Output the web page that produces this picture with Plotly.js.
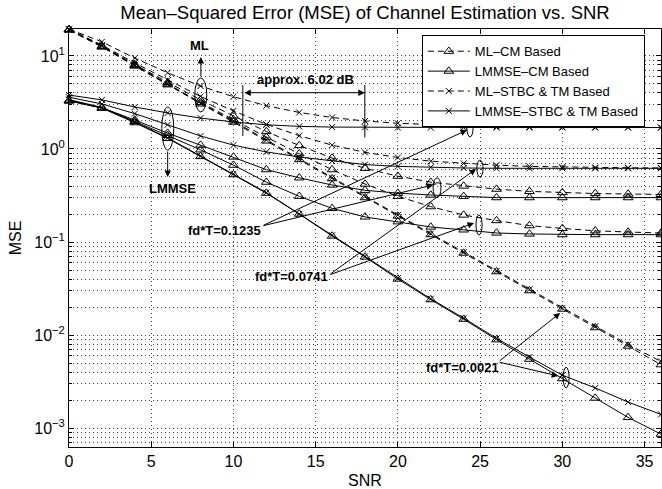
<!DOCTYPE html>
<html><head><meta charset="utf-8">
<script src="https://cdn.plot.ly/plotly-3.0.1.min.js"></script>
<style>html,body{margin:0;padding:0;background:#fff}#c{width:662px;height:489px}</style>
</head><body><div id="c"></div>
<script>
const snr = [0,2,4,6,8,10,12,14,16,18,20,22,24,26,28,30,32,34,36];

// fd*T = 0.0021
const mlCm0021   = [19.0,12.5,7.8,4.9,3.05,1.95,1.22,0.77,0.48,0.30,0.19,0.12,0.076,0.048,0.030,0.019,0.012,0.0076,0.0048];
const mlStbc0021 = [19.1,12.8,8.0,5.0,3.1,2.0,1.25,0.78,0.49,0.31,0.195,0.123,0.078,0.049,0.031,0.0195,0.0124,0.0079,0.0052];
const lmCm0021   = [3.3,2.75,1.92,1.3,0.83,0.53,0.335,0.2,0.116,0.069,0.04,0.024,0.0148,0.0089,0.0055,0.0034,0.0021,0.0013,0.00086];
const lmStbc0021 = [3.4,2.8,1.95,1.32,0.84,0.54,0.34,0.2,0.118,0.07,0.041,0.0245,0.0152,0.0092,0.0058,0.0037,0.0027,0.0019,0.0014];
// fd*T = 0.0741
const mlCm0741   = [19.2,12.6,7.9,5.0,3.17,2.07,1.34,0.89,0.60,0.42,0.31,0.24,0.195,0.17,0.15,0.14,0.132,0.128,0.125];
const mlStbc0741 = [19.4,13.1,8.4,5.5,3.67,2.57,1.84,1.39,1.10,0.92,0.81,0.74,0.70,0.67,0.65,0.64,0.632,0.628,0.625];
const lmCm0741   = [3.3,2.76,1.98,1.4,0.98,0.67,0.44,0.31,0.23,0.186,0.165,0.145,0.135,0.125,0.122,0.12,0.12,0.12,0.12];
const lmStbc0741 = [3.6,3.05,2.4,1.82,1.38,1.1,0.93,0.82,0.74,0.68,0.65,0.635,0.625,0.62,0.62,0.62,0.62,0.62,0.62];
// fd*T = 0.1235
const mlCm1235   = [19.3,12.8,8.1,5.2,3.37,2.27,1.54,1.09,0.80,0.62,0.51,0.44,0.40,0.37,0.35,0.34,0.332,0.328,0.325];
const mlStbc1235 = [19.5,14.2,9.5,6.6,4.75,3.65,2.92,2.47,2.18,2.0,1.89,1.82,1.78,1.75,1.73,1.72,1.71,1.71,1.70];
const lmCm1235   = [3.3,2.78,2.05,1.48,1.1,0.82,0.6,0.49,0.41,0.36,0.335,0.32,0.31,0.30,0.30,0.30,0.30,0.30,0.30];
const lmStbc1235 = [3.8,3.37,2.83,2.44,2.15,1.95,1.82,1.75,1.72,1.71,1.70,1.70,1.70,1.70,1.70,1.70,1.70,1.70,1.70];

const seriesNames = ['ML–CM Based','LMMSE–CM Based','ML–STBC &amp; TM Based','LMMSE–STBC &amp; TM Based'];
const xTicks = [0,5,10,15,20,25,30,35];
const yTickVals = [10,1,0.1,0.01,0.001];
const yTickText = ['10<sup>1</sup>','10<sup>0</sup>','10<sup>−1</sup>','10<sup>−2</sup>','10<sup>−3</sup>'];

const FONT = 'Liberation Sans, Arial, Helvetica, sans-serif';
const styles = [
  {dash:'6px,4px', symbol:'triangle-up-open', size:8.5},
  {dash:'solid',   symbol:'triangle-up-open', size:8.5},
  {dash:'6px,4px', symbol:'x-thin-open', size:6},
  {dash:'solid',   symbol:'x-thin-open', size:6}
];
const groups = [
  [mlCm0021, mlCm0741, mlCm1235],
  [lmCm0021, lmCm0741, lmCm1235],
  [mlStbc0021, mlStbc0741, mlStbc1235],
  [lmStbc0021, lmStbc0741, lmStbc1235]
];
const traces = [];
groups.forEach((g, gi) => {
  g.forEach((ys, k) => {
    traces.push({
      x: snr, y: ys, type:'scatter', mode:'lines+markers',
      name: seriesNames[gi], legendgroup: 'g'+gi, showlegend: k===0,
      cliponaxis:false,
      line:{color:'#000', width:1, dash:styles[gi].dash},
      marker:{symbol:styles[gi].symbol, size:styles[gi].size, color:'#000', line:{color:'#000', width:1}}
    });
  });
});

// minor tick values for log axis
const minorVals = [];
[-4,-3,-2,-1,0,1].forEach(p => { for (let m=2;m<=9;m++) minorVals.push(m*Math.pow(10,p)); });

const L = Math.log10;
const bold = {family:FONT, size:13, color:'#000'};
function txt(x, v, t){ return {x:x, y:L(v), xref:'x', yref:'y', text:'<b>'+t+'</b>', showarrow:false, font:bold, xanchor:'center', yanchor:'middle'}; }
function arr(x, v, ax, ay, side){ return {x:x, y:L(v), xref:'x', yref:'y', text:'', showarrow:true, ax:ax, ay:ay, arrowhead:2, arrowsize:1.3, arrowwidth:1, arrowcolor:'#000', arrowside: side||'end', standoff:0, startstandoff:0}; }

const annotations = [
  txt(7.95, Math.pow(10,1.118), 'ML'),
  arr(8.02, Math.pow(10,0.989), 0, 21),
  txt(6.32, Math.pow(10,-0.43), 'LMMSE'),
  arr(6.0, Math.pow(10,-0.301), 0, -27),
  txt(14.4, Math.pow(10,0.742), 'approx. 6.02 dB'),
  arr(17.99, Math.pow(10,0.605), -122, 0, 'end+start'),
  txt(9.48, Math.pow(10,-0.871), 'fd*T=0.1235'),
  arr(24.2, Math.pow(10,0.204), -205, 96),
  arr(22.14, Math.pow(10,-0.387), -171, 41),
  txt(13.56, Math.pow(10,-1.376), 'fd*T=0.0741'),
  arr(24.75, Math.pow(10,-0.215), -147, 106),
  arr(24.63, Math.pow(10,-0.796), -145, 52),
  txt(23.9, Math.pow(10,-2.344), 'fd*T=0.0021'),
  arr(29.87, Math.pow(10,-1.763), -62, 49),
  arr(29.75, Math.pow(10,-2.44), -60, -14)
];

function ell(x0,x1,v0,v1){ return {type:'circle', xref:'x', yref:'y', x0:x0, x1:x1, y0:v0, y1:v1, line:{color:'#000', width:1}, fillcolor:'rgba(0,0,0,0)'}; }
function vline(x, v0, v1){ return {type:'line', xref:'x', yref:'y', x0:x, x1:x, y0:v0, y1:v1, line:{color:'#000', width:1}}; }
const shapes = [
  ell(7.65,8.38,2.5,5.8),
  ell(5.64,6.37,0.975,2.83),
  ell(24.2,24.57,1.35,2.05),
  ell(24.8,25.18,0.50,0.76),
  ell(22.14,22.62,0.30,0.49),
  ell(24.75,25.12,0.119,0.195),
  ell(30.05,30.41,0.0027,0.0045),
  vline(10.57, 1.38, 4.88),
  vline(17.99, 1.33, 4.88)
];

const layout = {
  width:662, height:489,
  margin:{l:69, r:1, t:29, b:42},
  paper_bgcolor:'#fff', plot_bgcolor:'#fff',
  font:{family:FONT, color:'#000', size:16},
  title:{text:'Mean–Squared Error (MSE) of Channel Estimation vs. SNR', font:{family:FONT, size:18.5, color:'#000'}, x:0.5, xref:'paper', y:0.975, yref:'container', yanchor:'middle'},
  xaxis:{
    range:[0,36], tickvals:xTicks, ticks:'inside', ticklen:5, tickcolor:'#000',
    showline:true, linecolor:'#000', linewidth:1, mirror:'ticks', zeroline:false,
    showgrid:true, gridcolor:'#444', gridwidth:1, griddash:'1px,3px',
    tickfont:{family:FONT, size:16, color:'#000'},
    title:{text:'SNR', font:{family:FONT, size:16, color:'#000'}, standoff:6}
  },
  yaxis:{
    type:'log', range:[-3.204, 1.290], tickvals:yTickVals, ticktext:yTickText,
    ticks:'inside', ticklen:5, tickcolor:'#000',
    showline:true, linecolor:'#000', linewidth:1, mirror:'ticks', zeroline:false,
    showgrid:true, gridcolor:'#444', gridwidth:1, griddash:'1px,3px',
    minor:{tickvals:minorVals, ticks:'inside', ticklen:3, tickcolor:'#000', showgrid:true, gridcolor:'#444', gridwidth:1, griddash:'1px,3px'},
    tickfont:{family:FONT, size:16, color:'#000'},
    title:{text:'MSE', font:{family:FONT, size:16, color:'#000'}, standoff:8}
  },
  legend:{x:0.596, y:0.985, xanchor:'left', yanchor:'top', bgcolor:'#fff', bordercolor:'#000', borderwidth:1,
    font:{family:FONT, size:13, color:'#000'}, tracegroupgap:0, itemwidth:42},
  annotations: annotations,
  shapes: shapes,
  showlegend:true
};
Plotly.newPlot('c', traces, layout, {displayModeBar:false, staticPlot:true});
</script>
</body></html>
